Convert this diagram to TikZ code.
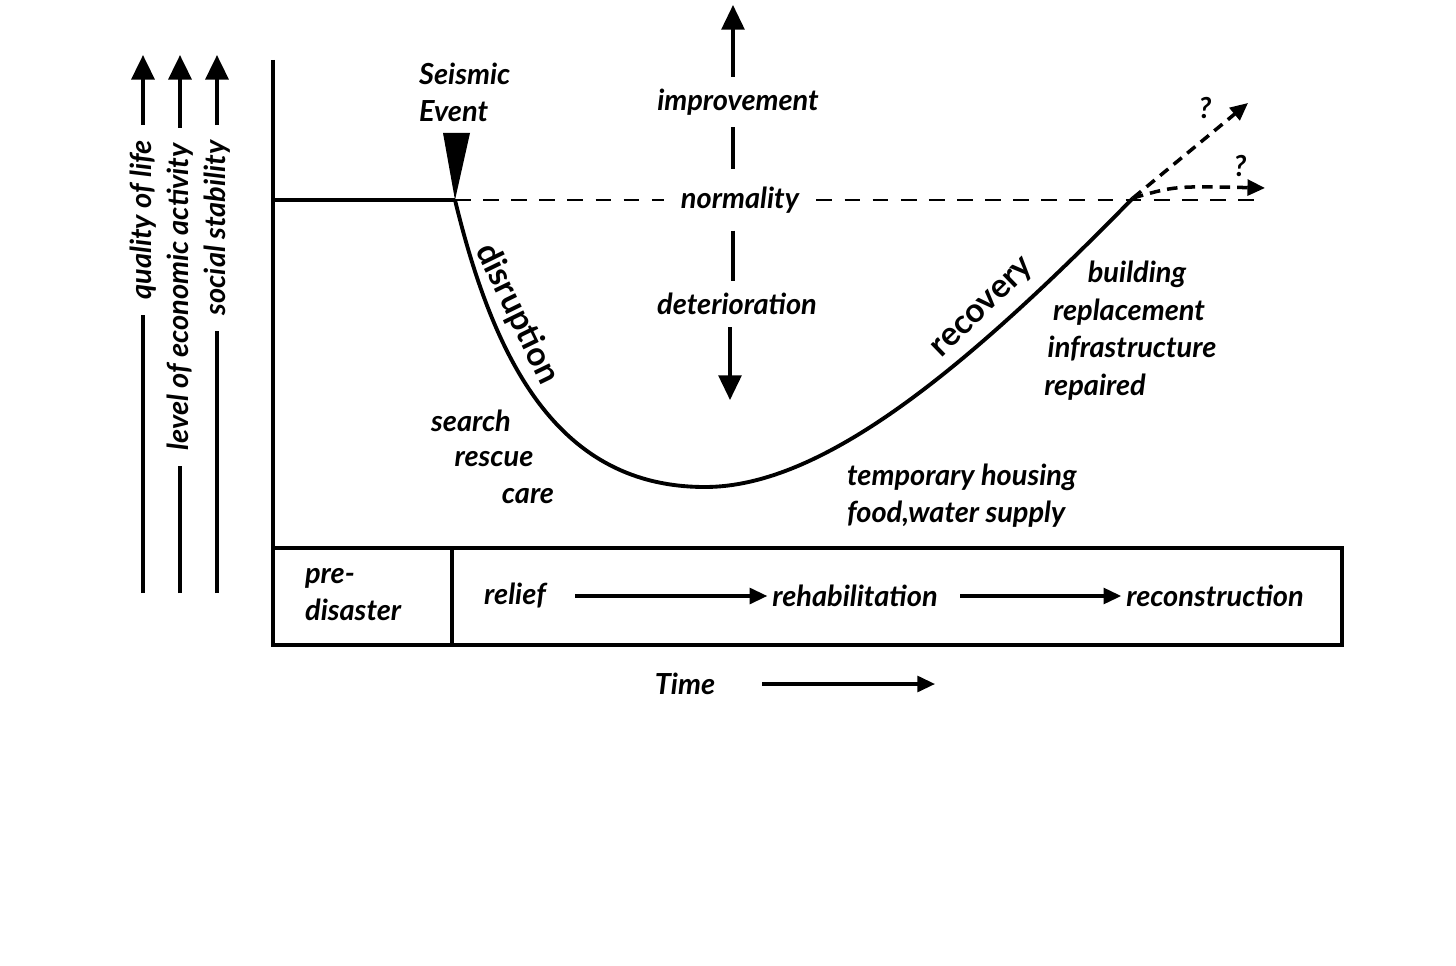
\documentclass[tikz,border=0pt]{standalone}
\usepackage{fontspec}
\setmainfont{Lato}
\usetikzlibrary{arrows.meta}

\begin{document}
\begin{tikzpicture}[x=0.02cm,y=-0.02cm,line width=1.8pt,font=\fontsize{16.5}{21}\selectfont\bfseries\itshape]
  \tikzstyle{lbl}=[inner sep=2pt]
  \tikzstyle{curvelbl}=[inner sep=2pt,font=\fontsize{19}{21}\selectfont\bfseries\upshape]
  \tikzstyle{axis}=[line width=2.2pt]
  \tikzstyle{bighead}=[-{Triangle[length=14pt,width=13pt]}]
  \tikzstyle{head}=[-{Triangle[length=10pt,width=9pt]}]
  \tikzstyle{baseline}=[line width=1.3pt,dash pattern=on 9pt off 7pt]
  \tikzstyle{guess}=[line width=2pt,dash pattern=on 6pt off 4pt,-{Triangle[length=10pt,width=9pt]}]

  \useasboundingbox (0,0) rectangle (1456,966);

  % three scales on the left
  \foreach \name/\x/\y/\text in {qol/143/220/quality of life, eco/180/297/level of economic activity, soc/217/228/social stability}
  {
    \coordinate (\name-b) at (\x,593);
    \coordinate (\name-t) at (\x,55);
    \node[lbl,rotate=90,inner sep=8pt] (\name) at (\x,\y) {\text};
    \draw[axis] (\name-b) -- (\name.west);
    \draw[axis,bighead] (\name.east) -- (\name-t);
  }

  % frame and phases
  \draw[axis] (273,60) -- (273,548);
  \draw[axis] (273,548) rectangle (1342,645);
  \draw[axis] (452,548) -- (452,645);

  \node[lbl,align=left,anchor=west] (pre) at (300,595) {pre-\\disaster};
  \node[lbl] (relief) at (515,596) {relief};
  \node[lbl] (rehab) at (855,596) {rehabilitation};
  \node[lbl] (recon) at (1215,596) {reconstruction};
  \draw[head,shorten <=14pt] (relief) -- (rehab);
  \draw[head,shorten <=10pt] (rehab) -- (recon);

  \node[lbl] (time) at (685,684) {Time};
  \coordinate (time-end) at (935,684);
  \draw[head,shorten <=24pt] (time) -- (time-end);

  % normality level
  \coordinate (start) at (273,200);
  \coordinate (quake) at (455,200);
  \coordinate (bottom) at (705,487);
  \coordinate (back) at (1133,198);
  \coordinate (far) at (1262,200);
  \node[lbl,inner sep=9pt] (norm) at (740,200) {normality};
  \draw[axis] (start) -- (quake);
  \draw[baseline] (quake) -- (norm.west);
  \draw[baseline] (norm.east) -- (far);

  \node[lbl,align=left,anchor=west] (seismic) at (414,92) {Seismic\\Event};
  \fill (443,133) -- (470,133) -- (quake) -- cycle;

  % improvement / deterioration
  \coordinate (up) at (733,5);
  \coordinate (down) at (730,400);
  \node[lbl,inner sep=6pt] (imp) at (738,102) {improvement};
  \node[lbl,inner sep=6pt] (det) at (737,304) {deterioration};
  \draw[bighead] (imp.north -| up) -- (up);
  \draw (imp.south -| up) -- (norm.north -| up);
  \draw (norm.south -| up) -- (det.north -| up);
  \draw[bighead] (det.south -| down) -- (down);

  % the curve
  \draw[axis] (quake) .. controls (495,365) and (560,487) .. (bottom)
    .. controls (820,487) and (960,375) .. (back);
  \node[curvelbl,rotate=-64] (disr) at (517,314) {disruption};
  \node[curvelbl,rotate=44] (rec) at (984,309) {recovery};

  \draw[guess] (back) -- (1248,103);
  \draw[guess] (back) .. controls (1175,186) .. (1265,188);
  \node[lbl] (q1) at (1205,108) {?};
  \node[lbl] (q2) at (1240,166) {?};

  % what happens when
  \foreach \name/\x/\y/\text in {srch/471/421/search, resc/494/459/rescue, care/528/496/care}
    \node[lbl] (\name) at (\x,\y) {\text};

  \node[lbl,align=left,anchor=west] (temp) at (842,496) {temporary housing\\food,water supply};

  \foreach \name/\x/\y/\text in {bld/1137/274/building, repl/1129/312/replacement, infra/1132/349/infrastructure, rep/1095/387/repaired}
    \node[lbl] (\name) at (\x,\y) {\text};
\end{tikzpicture}
\end{document}
